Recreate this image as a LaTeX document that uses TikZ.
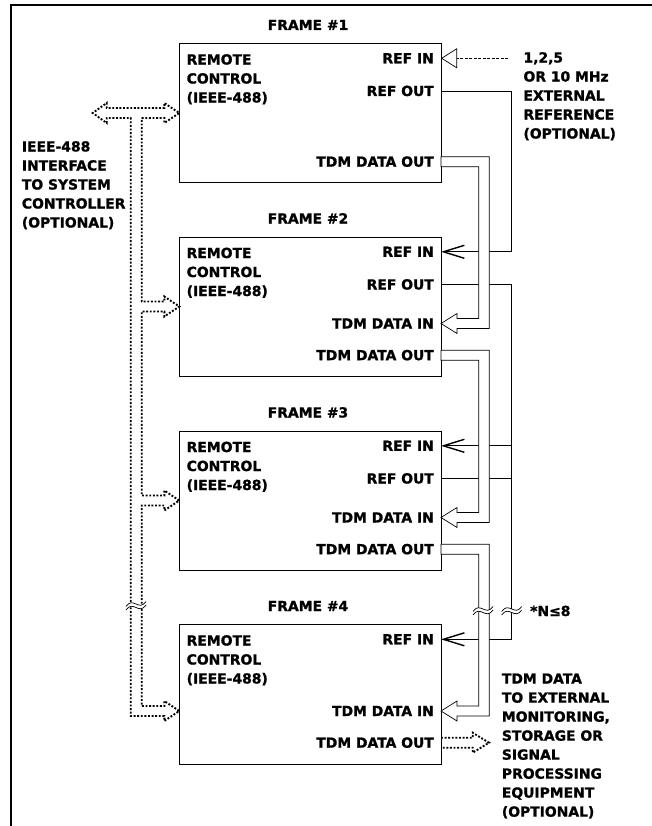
\documentclass[tikz,border=0pt]{standalone}
\usepackage{fontspec}
\setmainfont{DejaVu Sans}[BoldFeatures={FakeBold=1.2}]
\usetikzlibrary{arrows.meta,calc,positioning}

\tikzset{
  framebox/.style={draw, line width=0.8pt, minimum width=261.7pt, minimum height=139.5pt, inner sep=0pt},
  lbl/.style={font=\fontsize{13.9}{19}\selectfont\bfseries, inner sep=0pt, text height=10pt, text depth=0pt},
  lblock/.style={font=\fontsize{13.9}{19}\selectfont\bfseries, inner sep=0pt, align=left, anchor=north west},
  wire/.style={line width=0.7pt},
  pipe/.style={line width=0.7pt, fill=white},
  dotpipe/.style={line width=1.9pt, dash pattern=on 1.9pt off 1.7pt},
  refarrow/.style={-{Straight Barb[length=21pt,width=13pt,line width=1.4pt]}},
  wavebreak/.pic={
    \fill[white] (-10,2.5) .. controls (-3,-8) and (3,8) .. (10,-2.5) -- (10,1) .. controls (3,11.5) and (-3,-4.5) .. (-10,6) -- cycle;
    \draw[line width=0.7pt] (-10,2.5) .. controls (-3,-8) and (3,8) .. (10,-2.5);
    \draw[line width=0.7pt] (-10,6) .. controls (-3,-4.5) and (3,11.5) .. (10,1);
  }
}

\begin{document}
\begin{tikzpicture}[x=1pt,y=-1pt]
\useasboundingbox (0,0) rectangle (652,826);
\draw[line width=2pt] (11,826) -- (11,5) -- (652,5);

% frames
\foreach \i/\t/\b in {1/43/70,2/236.5/70,3/430.5/70,4/624/87}{
  \node[framebox, anchor=north west] (frame\i) at (179.3,\t) {};
  \node[lbl] (title\i) at (308,\t-18) {FRAME \#\i};
  \node[lblock] (remote\i) at (186.5,\t+11) {REMOTE\\CONTROL\\(IEEE-488)};
  \node[lbl, anchor=east] (refinlbl\i) at (434,\t+15.3) {REF IN};
  \node[lbl, anchor=east] (doutlbl\i) at (434,\t+118.7) {TDM DATA OUT};
  \coordinate (refin\i) at (441,\t+15.3);
  \coordinate (dout\i) at (441,\t+118.7);
  \coordinate (bus\i) at (179.3,\t+\b);
}
\foreach \i/\t in {1/43,2/236.5,3/430.5}{
  \node[lbl, anchor=east] (refoutlbl\i) at (434,\t+48) {REF OUT};
  \coordinate (refout\i) at (441,\t+48);
}
\foreach \i/\t in {2/236.5,3/430.5,4/624}{
  \node[lbl, anchor=east] (dinlbl\i) at (434,\t+87) {TDM DATA IN};
  \coordinate (din\i) at (441,\t+87);
}

% side texts
\node[lblock] (ieeetext) at (21.7,141) {IEEE-488\\INTERFACE\\TO SYSTEM\\CONTROLLER\\(OPTIONAL)};
\node[lblock] (exttext) at (523.3,52) {1,2,5\\OR 10 MHz\\EXTERNAL\\REFERENCE\\(OPTIONAL)};
\node[lblock] (tdmtext) at (501.7,673.3) {TDM DATA\\TO EXTERNAL\\MONITORING,\\STORAGE OR\\SIGNAL\\PROCESSING\\EQUIPMENT\\(OPTIONAL)};
\node[lbl, anchor=west] (nmax) at (530,611) {*N≤8};

% reference chain
\coordinate (extref) at (508,58.3);
\draw[line width=0.5pt, dash pattern=on 3pt off 1.5pt, -{Triangle[open,length=16pt,width=20pt,line width=0.7pt]}] (extref) -- (refin1);
\draw[wire, refarrow] (refout1) -| ($(refin2)+(70.7,0)$) -- (refin2);
\draw[wire, refarrow] (refout2) -| ($(refin4)+(70.7,0)$) -- (refin4);
\draw[wire, refarrow] ($(refin3)+(70.7,0)$) -- (refin3);
\draw[wire] (refout3) -- ++(70.7,0);

% tdm data pipes
\foreach \i/\j in {1/2,2/3,3/4}{
  \filldraw[pipe] ($(dout\i)+(0,-5)$) -| ($(din\j)+(48.3,5)$) -- ($(din\j)+(16,5)$) -- ($(din\j)+(16,10)$) -- (din\j) -- ($(din\j)+(16,-10)$) -- ($(din\j)+(16,-5)$) -| ($(dout\i)+(37.7,5)$) -- ($(dout\i)+(0,5)$) -- cycle;
}
\draw[dotpipe] ($(dout4)+(0,-5)$) -- ++(31.7,0) -- ++(0,-5) -- ($(dout4)+(48,0)$) -- ($(dout4)+(31.7,10)$) -- ++(0,-5) -- ($(dout4)+(0,5)$);

% ieee-488 bus
\coordinate (ctrl) at (92.7,113);
\draw[dotpipe] ($(bus1)+(-37.6,5)$) -- ($(bus1)+(-15,5)$) -- ++(0,5) -- (bus1) -- ($(bus1)+(-15,-10)$) -- ++(0,5)
  -- ($(ctrl)+(14,-5)$) -- ++(0,-5) -- (ctrl) -- ($(ctrl)+(14,10)$) -- ++(0,-5)
  -- ($(bus1)+(-48.6,5)$) |- ($(bus4)+(-15,5)$) -- ++(0,5) -- (bus4) -- ($(bus4)+(-15,-10)$) -- ++(0,5)
  -- ($(bus4)+(-37.6,-5)$) -- ($(bus3)+(-37.6,5)$) -- ($(bus3)+(-15,5)$) -- ++(0,5) -- (bus3) -- ($(bus3)+(-15,-10)$) -- ++(0,5)
  -- ($(bus3)+(-37.6,-5)$) -- ($(bus2)+(-37.6,5)$) -- ($(bus2)+(-15,5)$) -- ++(0,5) -- (bus2) -- ($(bus2)+(-15,-10)$) -- ++(0,5)
  -- ($(bus2)+(-37.6,-5)$) -- cycle;

% breaks
\pic at (136,604) {wavebreak};
\pic at (483,609) {wavebreak};
\pic at (511.7,609) {wavebreak};

\end{tikzpicture}
\end{document}
